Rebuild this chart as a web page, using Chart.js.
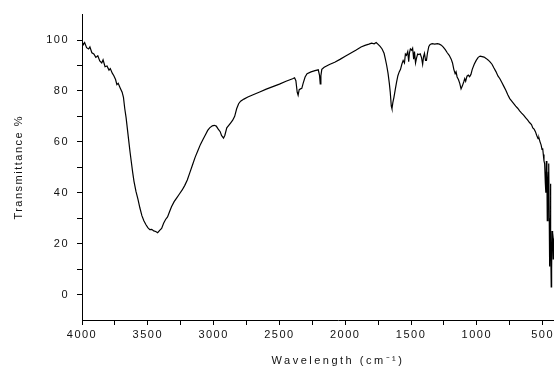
<!DOCTYPE html>
<html>
<head>
<meta charset="utf-8">
<script src="https://cdn.jsdelivr.net/npm/chart.js@4.4.0/dist/chart.umd.min.js"></script>
<style>
  html, body { margin: 0; padding: 0; background: #fff; overflow: hidden; }
</style>
</head>
<body>
<canvas id="spectrum" width="594" height="370"></canvas>
<script>
// IR spectrum (wavenumber in cm-1, transmittance in %)
const wavenumber = [
  4000, 3990, 3980, 3965, 3950, 3940, 3925, 3910, 3895, 3880, 3865, 3850, 3840, 3825, 3810, 3795,
  3785, 3770, 3758, 3745, 3735, 3725, 3710, 3695, 3685, 3675, 3665, 3655, 3645, 3635, 3625, 3615,
  3605, 3590, 3575, 3560, 3545, 3530, 3515, 3500, 3485, 3470, 3455, 3440, 3425, 3410, 3395, 3380,
  3365, 3350, 3335, 3320, 3300, 3280, 3260, 3240, 3220, 3200, 3180, 3160, 3140, 3120, 3100, 3080,
  3060, 3045, 3030, 3010, 2995, 2980, 2965, 2950, 2940, 2925, 2915, 2900, 2885, 2870, 2855, 2840,
  2825, 2810, 2795, 2770, 2740, 2700, 2650, 2600, 2550, 2500, 2450, 2400, 2385, 2375, 2365, 2358,
  2350, 2340, 2330, 2320, 2305, 2290, 2260, 2230, 2205, 2195, 2190, 2185, 2178, 2160, 2120, 2080,
  2040, 2000, 1960, 1920, 1880, 1850, 1820, 1800, 1780, 1765, 1750, 1735, 1720, 1705, 1695, 1685,
  1675, 1665, 1658, 1650, 1645, 1638, 1630, 1620, 1610, 1600, 1590, 1580, 1570, 1560, 1550, 1543,
  1535, 1525, 1518, 1512, 1505, 1495, 1488, 1480, 1474, 1466, 1458, 1450, 1440, 1430, 1420, 1412,
  1405, 1398, 1390, 1383, 1375, 1365, 1355, 1340, 1320, 1300, 1285, 1270, 1255, 1240, 1225, 1210,
  1195, 1185, 1175, 1165, 1158, 1150, 1140, 1130, 1120, 1110, 1100, 1092, 1085, 1075, 1065, 1055,
  1045, 1035, 1020, 1005, 990, 975, 960, 945, 930, 915, 900, 885, 870, 855, 840, 825,
  810, 795, 780, 765, 750, 735, 720, 705, 690, 675, 660, 645, 630, 615, 600, 585,
  575, 565, 555, 545, 535, 528, 520, 512, 505, 500, 495, 490, 485, 480, 476, 472,
  468, 465, 460, 457, 454, 450, 447, 444, 441, 438, 435, 432, 429, 426, 423, 420,
  417, 414, 410, 408
];
const transmittance = [
  99.5, 98.2, 99.0, 97.0, 96.5, 97.3, 95.0, 94.5, 93.2, 93.8, 91.8, 91.0, 92.2, 89.5, 89.8, 88.2,
  88.8, 87.0, 86.0, 84.5, 82.5, 83.0, 81.2, 79.5, 77.5, 73.0, 69.5, 65.0, 60.5, 56.0, 52.0, 48.0,
  44.5, 40.5, 37.5, 34.0, 31.0, 29.0, 27.5, 26.3, 25.5, 25.6, 25.0, 24.8, 24.3, 25.2, 26.0, 28.0,
  29.5, 30.5, 32.5, 34.5, 36.5, 38.0, 39.5, 41.0, 42.8, 45.0, 48.0, 51.0, 54.0, 56.5, 59.0, 61.0,
  63.0, 64.5, 65.5, 66.3, 66.5, 66.2, 65.0, 64.0, 62.5, 61.5, 62.5, 65.5, 66.5, 67.5, 68.5, 70.0,
  73.0, 75.0, 76.0, 76.8, 77.6, 78.5, 79.6, 80.7, 81.7, 82.7, 83.8, 84.8, 85.2, 84.0, 79.5, 78.3,
  80.5, 80.8, 81.0, 83.0, 85.5, 86.8, 87.5, 88.0, 88.3, 86.0, 82.8, 86.0, 88.5, 89.3, 90.4, 91.3,
  92.4, 93.6, 94.8, 96.0, 97.3, 97.9, 98.4, 98.8, 98.5, 99.0, 98.3, 97.5, 96.5, 94.8, 92.5, 90.0,
  87.0, 83.0, 79.5, 74.0, 73.0, 75.5, 77.5, 80.5, 83.5, 86.0, 87.5, 88.5, 90.5, 92.0, 91.0, 94.5,
  94.0, 95.5, 91.5, 95.0, 96.5, 96.0, 96.8, 92.5, 95.5, 91.0, 93.0, 94.5, 94.3, 94.6, 93.0, 90.5,
  93.5, 94.8, 92.0, 92.0, 95.0, 97.5, 98.3, 98.6, 98.4, 98.6, 98.4, 98.0, 97.2, 96.2, 95.0, 94.0,
  92.5, 91.0, 88.5, 86.8, 87.5, 85.5, 84.5, 83.0, 80.8, 82.0, 83.5, 84.8, 83.8, 85.8, 86.2, 85.6,
  86.5, 88.5, 90.5, 92.0, 93.2, 93.7, 93.5, 93.3, 92.8, 92.2, 91.4, 90.5, 89.0, 87.6, 85.9, 84.8,
  83.3, 81.8, 80.3, 78.5, 77.0, 76.0, 75.0, 74.0, 73.2, 72.2, 71.3, 70.5, 69.5, 68.6, 67.6, 66.8,
  65.5, 65.0, 64.0, 62.5, 61.3, 61.5, 60.0, 58.8, 57.0, 57.5, 55.0, 52.5, 51.5, 44.0, 40.0, 52.5,
  48.0, 29.0, 44.0, 48.0, 51.5, 30.0, 11.0, 30.0, 43.5, 22.0, 3.0, 10.0, 25.0, 18.0, 24.5, 14.0,
  22.0, 20.0, 24.0, 19.0
];

const xTicks = [4000, 3750, 3500, 3250, 3000, 2750, 2500, 2250, 2000, 1750, 1500, 1250, 1000, 750, 500, 250];
const yTicks = [0, 10, 20, 30, 40, 50, 60, 70, 80, 90, 100];

const fontFamily = '"Liberation Sans", Arial, sans-serif';

// spaced-out lettering like the original plot
const spacing = {
  id: 'spacing',
  beforeLayout(chart) { chart.ctx.letterSpacing = '1.5px'; },
  afterLayout(chart) {
    const xs = chart.scales.x;
    if (!xs._patched) {
      const drawTitle = xs.drawTitle;
      xs.drawTitle = function () {
        this.ctx.letterSpacing = '2.5px';
        drawTitle.call(this);
        this.ctx.letterSpacing = '1.5px';
      };
      xs._patched = true;
    }
  },
  beforeDraw(chart) { chart.ctx.letterSpacing = '1.5px'; }
};

const points = wavenumber.map((w, i) => ({ x: w, y: transmittance[i] }));

new Chart(document.getElementById('spectrum'), {
  type: 'scatter',
  data: {
    datasets: [{
      data: points,
      showLine: true,
      borderColor: '#000',
      borderWidth: 1.2,
      pointRadius: 0,
      tension: 0,
      fill: false
    }]
  },
  options: {
    responsive: false,
    animation: false,
    layout: { padding: { top: 12, right: 0, bottom: 0, left: 0 } },
    plugins: {
      legend: { display: false },
      tooltip: { enabled: false }
    },
    scales: {
      x: {
        type: 'linear',
        reverse: true,
        min: 110,
        max: 4000,
        afterBuildTicks: s => { s.ticks = xTicks.map(v => ({ value: v })); },
        afterFit: s => { s.height = 50; },
        ticks: {
          autoSkip: false,
          maxRotation: 0,
          padding: 3,
          color: '#111',
          font: { family: fontFamily, size: 11 },
          callback: v => (v % 500 === 0 ? v : '')
        },
        grid: { drawOnChartArea: false, tickLength: 5, color: '#000' },
        border: { color: '#000', width: 1 },
        title: {
          display: true,
          text: 'Wavelength (cm⁻¹)',
          color: '#111',
          font: { family: fontFamily, size: 11 },
          padding: { top: 0, bottom: 2 }
        }
      },
      y: {
        min: -10,
        max: 110,
        afterBuildTicks: s => { s.ticks = yTicks.map(v => ({ value: v })); },
        afterFit: s => { s.width = 82; },
        ticks: {
          autoSkip: false,
          padding: 8,
          color: '#111',
          font: { family: fontFamily, size: 11 },
          callback: v => (v % 20 === 0 ? v : '')
        },
        grid: { drawOnChartArea: false, tickLength: 5, color: '#000' },
        border: { color: '#000', width: 1 },
        title: {
          display: true,
          text: 'Transmittance %',
          color: '#111',
          font: { family: fontFamily, size: 11 },
          padding: { top: 12, bottom: 0 }
        }
      }
    }
  },
  plugins: [spacing]
});
</script>
</body>
</html>
